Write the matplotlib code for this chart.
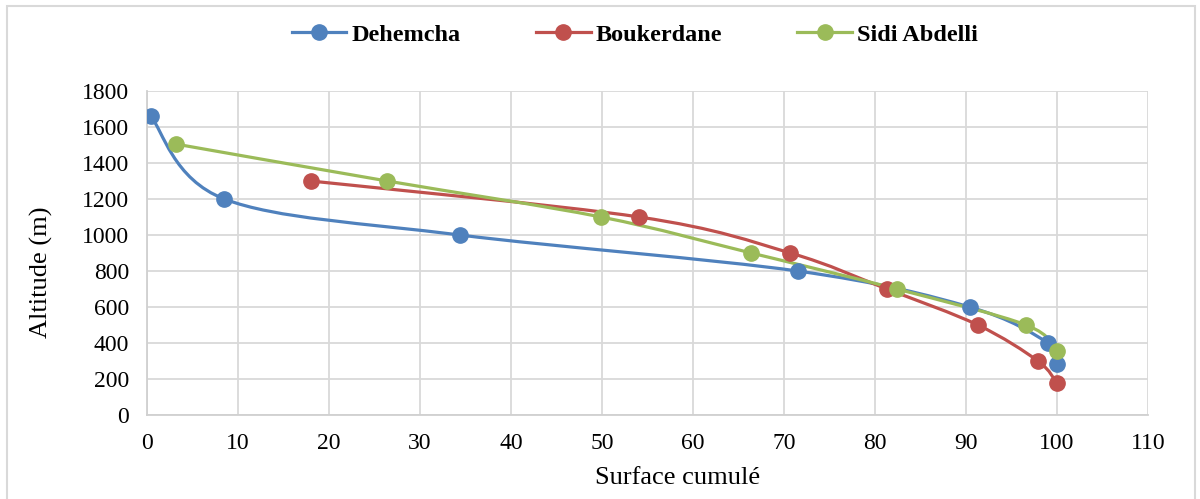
import numpy as np
import matplotlib.pyplot as plt
from matplotlib.path import Path
from matplotlib.patches import PathPatch, Rectangle
from matplotlib.lines import Line2D

plt.rcParams['font.family'] = ['Liberation Serif', 'DejaVu Serif']

# data
names = ['Dehemcha', 'Boukerdane', 'Sidi Abdelli']
colors = ['#4f81bd', '#c0504d', '#9bbb59']

deh_x = [0.4, 8.5, 34.4, 71.5, 90.4, 99.0, 100.0]
deh_y = [1660, 1200, 1000, 800, 600, 400, 283]

bou_x = [18.0, 54.1, 70.7, 81.3, 91.3, 97.9, 100.0]
bou_y = [1300, 1100, 900, 700, 500, 300, 177]

sid_x = [3.2, 26.4, 49.9, 66.4, 82.4, 96.6, 100.0]
sid_y = [1505, 1300, 1100, 900, 700, 500, 356]

series = [(deh_x, deh_y), (bou_x, bou_y), (sid_x, sid_y)]


def smooth_path(xs, ys):
    # Catmull-Rom style bezier, like the "smoothed line" option of a spreadsheet
    p = np.column_stack([xs, ys]).astype(float)
    n = len(p)
    verts = [p[0]]
    codes = [Path.MOVETO]
    for i in range(n - 1):
        p0 = p[i - 1] if i > 0 else p[i]
        p1 = p[i]
        p2 = p[i + 1]
        p3 = p[i + 2] if i + 2 < n else p[i + 1]
        c1 = p1 + (p2 - p0) / 6.0
        c2 = p2 - (p3 - p1) / 6.0
        verts += [c1, c2, p2]
        codes += [Path.CURVE4] * 3
    return Path(verts, codes)


fig = plt.figure(figsize=(12, 4.99), dpi=100)
ax = fig.add_axes([0.1225, 0.1683, 0.8342, 0.6493])

handles = []
for (xs, ys), c, name in zip(series, colors, names):
    ax.add_patch(PathPatch(smooth_path(xs, ys), facecolor='none', edgecolor=c,
                           lw=2.3, zorder=3, capstyle='round'))
    ax.plot(xs, ys, 'o', color=c, ms=11, zorder=4)
    handles.append(Line2D([], [], color=c, lw=2.3, marker='o', ms=11))

ax.set_xlim(0, 110)
ax.set_ylim(0, 1800)
ax.set_xticks(np.arange(0, 111, 10))
ax.set_yticks(np.arange(0, 1801, 200))
ax.grid(True, color='#d9d9d9', lw=1.3)
ax.set_axisbelow(True)
for s in ['top', 'right']:
    ax.spines[s].set_visible(False)
for s in ['left', 'bottom']:
    ax.spines[s].set_color('#d0d0d0')
    ax.spines[s].set_linewidth(1.3)
ax.tick_params(length=0, labelsize=17, pad=13)
ax.set_xlabel('Surface cumulé', fontsize=19)
ax.xaxis.set_label_coords(678 / 1200, 1 - 478 / 499, transform=fig.transFigure)
ax.xaxis.label.set_va('center')
ax.set_ylabel('Altitude (m)', fontsize=19)
ax.yaxis.set_label_coords(41 / 1200, 1 - 272 / 499, transform=fig.transFigure)
ax.yaxis.label.set_va('center')

fig.legend(handles, names, loc='center', bbox_to_anchor=(0.529, 0.93), ncol=3,
           frameon=False, handlelength=2.26, columnspacing=3.1, handletextpad=0.2,
           prop={'weight': 'bold', 'size': 17.5})

fig.patches.append(Rectangle((7 / 1200, -0.02), 1188 / 1200, 1 - 6 / 499 + 0.02,
                             transform=fig.transFigure, fill=False,
                             edgecolor='#d9d9d9', lw=1.5))

fig.savefig('out.png', dpi=100)
